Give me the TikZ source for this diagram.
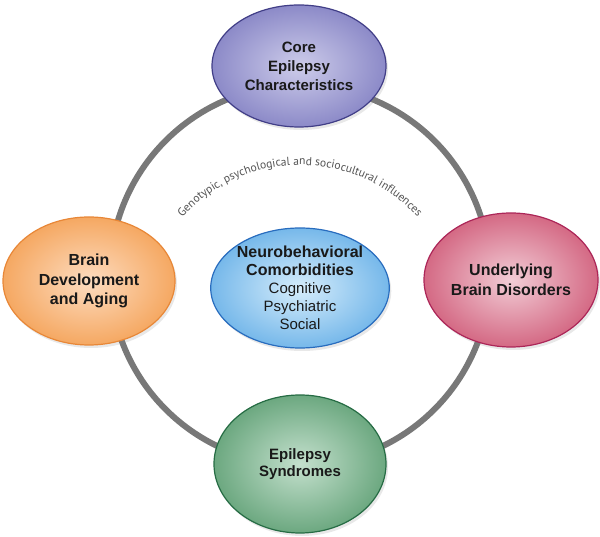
\documentclass[tikz,border=0pt]{standalone}
\usepackage{fontspec}
\setmainfont{Liberation Sans}
\newfontfamily\arcfont{PT Sans}
\usetikzlibrary{shapes.geometric,shadows,decorations.text}
\definecolor{ptxt}{RGB}{25,25,25}
\definecolor{ringgray}{RGB}{120,120,120}
\definecolor{pEdge}{RGB}{140,138,200}\definecolor{pIn}{RGB}{205,204,234}\definecolor{pBd}{RGB}{65,62,135}
\definecolor{oEdge}{RGB}{245,168,98}\definecolor{oIn}{RGB}{253,220,192}\definecolor{oBd}{RGB}{232,135,55}
\definecolor{rEdge}{RGB}{212,105,132}\definecolor{rIn}{RGB}{242,205,214}\definecolor{rBd}{RGB}{172,38,88}
\definecolor{gEdge}{RGB}{108,168,128}\definecolor{gIn}{RGB}{196,224,205}\definecolor{gBd}{RGB}{38,108,68}
\definecolor{bEdge}{RGB}{118,184,234}\definecolor{bIn}{RGB}{214,237,251}\definecolor{bBd}{RGB}{40,108,190}
\tikzset{
  blob/.style={ellipse, inner sep=0pt, line width=1.2pt, align=center, text=ptxt,
    drop shadow={opacity=0.18, shadow xshift=2pt, shadow yshift=-3pt}},
  ringstyle/.style={circle, draw=ringgray, line width=6pt, minimum size=380pt, inner sep=0pt},
}
\begin{document}
\begin{tikzpicture}[x=1pt,y=1pt]
\useasboundingbox (0,0) rectangle (600,537);
\node[ringstyle] (ring) at (300,262) {};
\path[decorate, decoration={text along path, text align=center, text color=black!68,
  text={|\arcfont\fontsize{11.6}{13}\selectfont|Genotypic, psychological and sociocultural influences}}]
  (179.0,315.6) arc[start angle=140, end angle=40, radius=158];
\node[blob, draw=pBd, inner color=pIn, outer color=pEdge, minimum width=174pt, minimum height=122pt,
  font=\bfseries\fontsize{15}{19}\selectfont] (core) at (299,471) {Core\\Epilepsy\\Characteristics};
\node[blob, draw=oBd, inner color=oIn, outer color=oEdge, minimum width=172pt, minimum height=128pt,
  font=\bfseries\fontsize{16}{19.5}\selectfont] (brain) at (89,256) {Brain\\Development\\and Aging};
\node[blob, draw=rBd, inner color=rIn, outer color=rEdge, minimum width=174pt, minimum height=134pt,
  font=\bfseries\fontsize{16}{19.5}\selectfont] (under) at (511,257) {Underlying\\Brain Disorders};
\node[blob, draw=gBd, inner color=gIn, outer color=gEdge, minimum width=172pt, minimum height=138pt,
  font=\bfseries\fontsize{15}{17.5}\selectfont] (synd) at (300,73) {Epilepsy\\Syndromes};
\node[blob, draw=bBd, inner color=bIn, outer color=bEdge, minimum width=166pt, minimum height=120pt,
  font=\fontsize{15}{18}\selectfont] (neuro) at (300,249)
  {{\bfseries\fontsize{16}{18}\selectfont Neurobehavioral}\\{\bfseries\fontsize{16}{18}\selectfont Comorbidities}\\Cognitive\\Psychiatric\\Social};
\end{tikzpicture}
\end{document}
